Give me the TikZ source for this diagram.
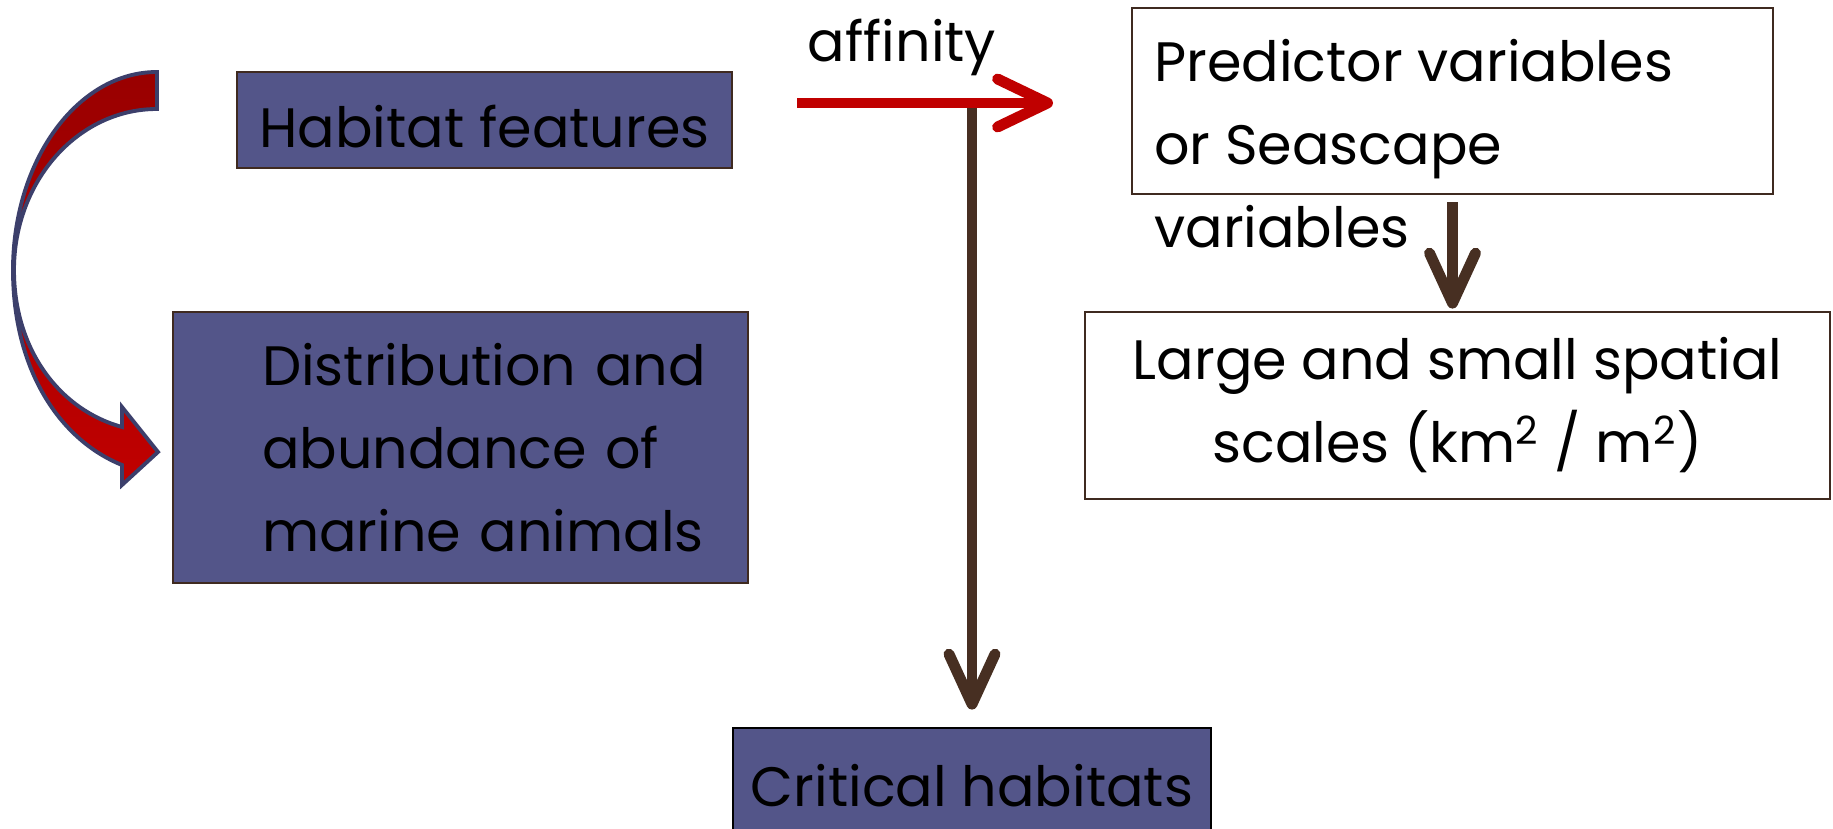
\documentclass[tikz,border=0pt]{standalone}
\usepackage{fontspec}
\setmainfont{Poppins}
\usepackage{xcolor}
\usepackage{tikz}
\usetikzlibrary{arrows.meta, positioning, calc}
\definecolor{boxblue}{HTML}{535589}
\definecolor{boxedge}{HTML}{3F2A20}
\definecolor{affred}{HTML}{C00000}
\definecolor{stembrown}{HTML}{472F22}
\definecolor{curvetop}{HTML}{990000}
\definecolor{curvebot}{HTML}{C00000}
\definecolor{curveedge}{HTML}{3C3F6B}
\tikzset{
    bluebox/.style={
        rectangle,
        draw=boxedge,
        fill=boxblue,
        line width=0.8pt,
        inner sep=0pt,
        align=center,
    },
    whitebox/.style={
        rectangle,
        draw=boxedge,
        fill=white,
        line width=0.8pt,
        inner sep=0pt,
        align=center,
    },
    redarrow/.style={
        draw=affred,
        line width=3.1pt,
        -{Straight Barb[length=0.5cm, width=0.48cm, line cap=round, line join=round]},
    },
    brownarrow/.style={
        draw=stembrown,
        line width=3.1pt,
        -{Straight Barb[length=0.5cm, width=0.46cm, line cap=round, line join=round]},
    },
}

\begin{document}
\begin{tikzpicture}[font=\fontsize{15.8}{23.6}\selectfont, node distance=1cm and 1cm]
          \useasboundingbox (0,0) rectangle (18.33,-8.29);
          \clip (0,0) rectangle (18.33,-8.29);

          \node [bluebox, minimum width=4.95cm, minimum height=0.96cm, text height=0.56cm, text depth=0pt] (habitat) at (4.845,-1.20) {Habitat features};
          \node [bluebox, minimum width=5.75cm, minimum height=2.71cm, align=left, text width=4.95cm, inner xsep=0.4cm,
                 execute at begin node={\leftskip=0.49cm}] (distrib) at (4.605,-4.475)
                {Distribution and\\abundance of\\marine animals};
          \node [bluebox, draw=black, minimum width=4.78cm, minimum height=1.16cm] (critical) at (9.72,-7.86) {Critical habitats};

          \node [whitebox, minimum width=6.41cm, minimum height=1.86cm] (predbox) at (14.525,-1.01) {};
          \node [anchor=north west, align=left, inner sep=0pt] (pred) at ($(predbox.north west)+(0.23,-0.32)$)
                {Predictor variables\\or Seascape\\variables};
          \node [whitebox, minimum width=7.45cm, minimum height=1.87cm] (scales) at (14.575,-4.055)
                {Large and small spatial\\scales (km\textsuperscript{2} / m\textsuperscript{2})};

          % affinity arrow and the branch down to critical habitats
          \coordinate (affstart) at (7.97,-1.03);
          \coordinate (affend) at (10.53,-1.03);
          \coordinate (split) at (critical.north |- affstart);
          \node (aff) at (9.02,-0.47) {affinity};
          \draw [brownarrow, shorten >=0.17cm] (split) -- (critical.north);
          \draw [redarrow] (affstart) -- (affend);
          \draw [brownarrow, shorten <=0.07cm, shorten >=0.02cm] (predbox.south) -- (predbox.south |- scales.north);

          % curved block arrow on the left
          \path [draw=curveedge, line width=1.1pt, line join=miter, top color=curvetop, bottom color=curvebot]
                (1.57,-0.72) .. controls (0.775,-0.72) and (0.13,-1.606) .. (0.13,-2.70)
                .. controls (0.13,-3.70) and (0.60,-4.40) .. (1.22,-4.65)
                -- (1.22,-4.85) -- (1.58,-4.52) -- (1.22,-4.07) -- (1.22,-4.27)
                .. controls (0.60,-4.10) and (0.14,-3.50) .. (0.14,-2.70)
                .. controls (0.14,-1.81) and (0.78,-1.09) .. (1.57,-1.09) -- cycle;
        \end{tikzpicture}
\end{document}
